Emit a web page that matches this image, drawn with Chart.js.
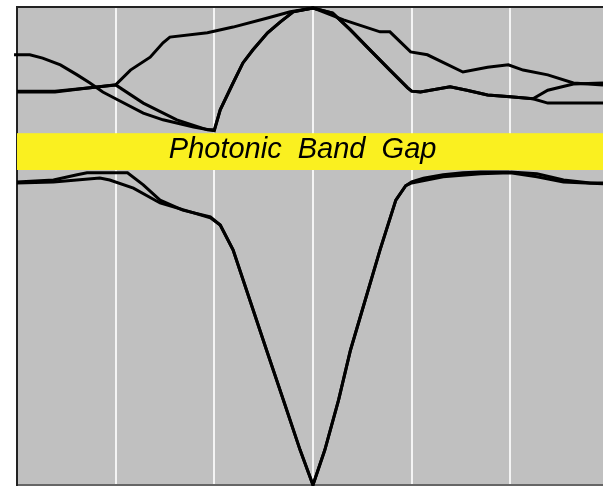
<!DOCTYPE html>
<html>
<head>
<meta charset="utf-8">
<script src="https://cdn.jsdelivr.net/npm/chart.js@4"></script>
<style>
  html, body { margin: 0; padding: 0; background: #ffffff; }
  #wrap { width: 603px; height: 486px; }
</style>
</head>
<body>
<div id="wrap"><canvas id="bands"></canvas></div>
<script>
// k-path position (0..5.94) and frequency (0..1) for each band line
var band1K = [-0.03, 0.13, 0.26, 0.44, 0.61, 0.74, 0.87, 1.0, 1.28, 1.48, 1.79, 2.0, 2.06, 2.19, 2.29, 2.39, 2.54, 2.67, 2.80, 3.0, 3.2, 3.38, 3.55, 3.78, 3.96, 4.0, 4.09, 4.39, 4.56, 4.77, 5.0, 5.23, 5.38, 5.94];
var band1F = [0.900, 0.900, 0.893, 0.879, 0.858, 0.841, 0.822, 0.808, 0.778, 0.764, 0.749, 0.741, 0.785, 0.841, 0.883, 0.910, 0.946, 0.969, 0.990, 0.998, 0.987, 0.952, 0.916, 0.868, 0.831, 0.824, 0.822, 0.833, 0.826, 0.816, 0.812, 0.808, 0.799, 0.799];

var band2K = [0, 0.385, 0.74, 1.0, 1.15, 1.35, 1.48, 1.55, 1.93, 2.19, 2.54, 2.77, 3.0, 3.31, 3.68, 3.78, 3.99, 4.16, 4.52, 4.77, 4.98, 5.13, 5.38, 5.64, 5.94];
var band2F = [0.824, 0.824, 0.831, 0.837, 0.868, 0.895, 0.925, 0.937, 0.946, 0.958, 0.977, 0.990, 0.998, 0.973, 0.948, 0.948, 0.906, 0.900, 0.864, 0.874, 0.879, 0.868, 0.858, 0.841, 0.837];

var band3K = [0, 0.385, 0.74, 1.0, 1.28, 1.62, 1.93, 2.0, 2.06, 2.19, 2.29, 2.39, 2.54, 2.67, 2.80, 3.0, 3.2, 3.38, 3.55, 3.78, 3.96, 4.0, 4.09, 4.39, 4.56, 4.77, 5.0, 5.23, 5.38, 5.64, 5.94];
var band3F = [0.822, 0.822, 0.831, 0.837, 0.799, 0.764, 0.743, 0.743, 0.785, 0.841, 0.883, 0.910, 0.946, 0.969, 0.990, 0.998, 0.987, 0.952, 0.916, 0.868, 0.831, 0.824, 0.822, 0.833, 0.826, 0.816, 0.812, 0.808, 0.826, 0.839, 0.841];

var band4K = [0, 0.37, 0.61, 0.71, 1.12, 1.28, 1.45, 1.68, 1.96, 2.06, 2.19, 2.36, 2.53, 2.70, 2.87, 3.0, 3.12, 3.26, 3.38, 3.53, 3.68, 3.84, 3.94, 4.0, 4.12, 4.32, 4.52, 4.70, 5.0, 5.27, 5.54, 5.81, 5.94];
var band4F = [0.634, 0.638, 0.649, 0.653, 0.653, 0.628, 0.596, 0.575, 0.561, 0.544, 0.492, 0.387, 0.282, 0.178, 0.073, 0, 0.073, 0.178, 0.282, 0.387, 0.492, 0.596, 0.626, 0.634, 0.642, 0.649, 0.653, 0.655, 0.655, 0.651, 0.638, 0.632, 0.632];

var band5K = [0, 0.37, 0.84, 0.94, 1.18, 1.45, 1.96, 2.06, 2.19, 2.36, 2.53, 2.70, 2.87, 3.0, 3.12, 3.26, 3.38, 3.53, 3.68, 3.84, 3.94, 4.0, 4.32, 4.70, 5.0, 5.27, 5.54, 5.94];
var band5F = [0.632, 0.634, 0.642, 0.638, 0.621, 0.590, 0.559, 0.544, 0.492, 0.387, 0.282, 0.178, 0.073, 0, 0.073, 0.178, 0.282, 0.387, 0.492, 0.596, 0.626, 0.632, 0.645, 0.651, 0.653, 0.645, 0.634, 0.630];

// band gap edges (frequency) and its label
var gapF = [0.659, 0.736];
var gapLabel = 'Photonic  Band  Gap';
var kMax = 5.94;

function pts(ks, fs) {
    return ks.map(function (k, i) { return {x: k, y: fs[i]}; });
}

function bandSet(ks, fs) {
    return {
        data: pts(ks, fs),
        showLine: true,
        borderColor: '#000000',
        borderWidth: 3,
        pointRadius: 0,
        tension: 0,
        clip: false
    };
}

var backdrop = {
    id: 'backdrop',
    beforeDraw: function (chart) {
        var a = chart.chartArea, ctx = chart.ctx;
        ctx.save();
        ctx.fillStyle = '#c0c0c0';
        ctx.fillRect(a.left, a.top, a.right - a.left, a.bottom - a.top);
        ctx.restore();
    },
    beforeDatasetsDraw: function (chart) {
        var a = chart.chartArea, ctx = chart.ctx, y = chart.scales.y;
        var top = y.getPixelForValue(gapF[1]), bot = y.getPixelForValue(gapF[0]);
        ctx.save();
        ctx.fillStyle = 'rgb(250,240,32)';
        ctx.fillRect(a.left, top, a.right - a.left, bot - top);
        ctx.fillStyle = '#000000';
        ctx.font = 'italic 29px "Liberation Sans", Arial, sans-serif';
        ctx.textAlign = 'center';
        ctx.textBaseline = 'alphabetic';
        ctx.fillText(gapLabel, chart.scales.x.getPixelForValue(2.895), bot - 12);
        ctx.restore();
    }
};

new Chart(document.getElementById('bands'), {
    type: 'scatter',
    data: {
        datasets: [
            bandSet(band1K, band1F),
            bandSet(band2K, band2F),
            bandSet(band3K, band3F),
            bandSet(band4K, band4F),
            bandSet(band5K, band5F)
        ]
    },
    options: {
        responsive: true,
        maintainAspectRatio: false,
        animation: false,
        layout: {padding: {left: 17, top: 7, right: 0, bottom: 1}},
        plugins: {legend: {display: false}, tooltip: {enabled: false}},
        scales: {
            x: {
                type: 'linear',
                min: 0,
                max: kMax,
                ticks: {display: false, stepSize: 1},
                grid: {
                    drawTicks: false,
                    lineWidth: 2,
                    color: function (c) {
                        var v = c.tick ? c.tick.value : 0;
                        return (v > 0 && v < kMax && v % 1 === 0) ? '#f4f4f4' : 'rgba(0,0,0,0)';
                    }
                },
                border: {color: '#666666', width: 2}
            },
            x2: {
                type: 'linear',
                position: 'top',
                min: 0,
                max: kMax,
                ticks: {display: false},
                grid: {display: false, drawTicks: false},
                border: {color: '#222222', width: 2}
            },
            y: {
                min: 0,
                max: 1,
                ticks: {display: false},
                grid: {display: false, drawTicks: false},
                border: {color: '#222222', width: 2}
            }
        }
    },
    plugins: [backdrop]
});
</script>
</body>
</html>
